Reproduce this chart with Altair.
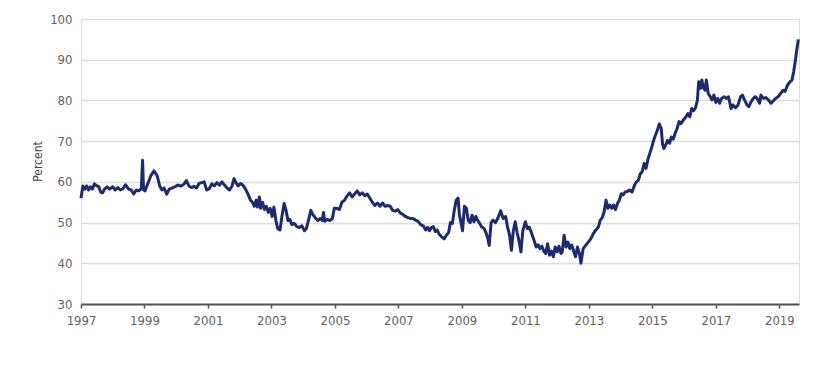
import altair as alt
import pandas as pd

years = [
 1997.00,1997.03,1997.06,1997.12,1997.18,1997.24,1997.30,1997.36,1997.42,1997.50,
 1997.56,1997.62,1997.68,1997.75,1997.82,1997.90,1998.00,1998.08,1998.16,1998.24,
 1998.32,1998.40,1998.50,1998.58,1998.66,1998.74,1998.82,1998.90,1998.94,1998.97,
 1999.02,1999.10,1999.20,1999.30,1999.40,1999.48,1999.55,1999.62,1999.70,1999.78,
 1999.88,1999.96,2000.05,2000.15,2000.25,2000.32,2000.40,2000.48,2000.56,2000.64,
 2000.72,2000.80,2000.88,2000.96,2001.04,2001.12,2001.20,2001.28,2001.36,2001.44,
 2001.52,2001.60,2001.68,2001.76,2001.82,2001.88,2001.95,2002.02,2002.10,2002.18,
 2002.26,2002.34,2002.40,2002.46,2002.52,2002.56,2002.62,2002.66,2002.72,2002.78,
 2002.84,2002.90,2002.96,2003.02,2003.08,2003.14,2003.20,2003.27,2003.34,2003.40,
 2003.46,2003.52,2003.58,2003.64,2003.72,2003.80,2003.88,2003.96,2004.04,2004.10,
 2004.18,2004.24,2004.30,2004.38,2004.46,2004.54,2004.60,2004.64,2004.68,2004.76,
 2004.84,2004.92,2004.98,2005.06,2005.14,2005.22,2005.30,2005.38,2005.46,2005.54,
 2005.62,2005.70,2005.78,2005.86,2005.94,2006.02,2006.10,2006.18,2006.26,2006.34,
 2006.42,2006.50,2006.58,2006.66,2006.74,2006.82,2006.90,2006.98,2007.06,2007.14,
 2007.22,2007.30,2007.38,2007.46,2007.54,2007.62,2007.70,2007.78,2007.86,2007.92,
 2007.98,2008.04,2008.10,2008.16,2008.22,2008.28,2008.36,2008.44,2008.52,2008.58,
 2008.64,2008.70,2008.76,2008.82,2008.88,2008.92,2008.97,2009.02,2009.08,2009.14,
 2009.20,2009.26,2009.32,2009.38,2009.44,2009.50,2009.56,2009.62,2009.70,2009.76,
 2009.82,2009.86,2009.92,2009.98,2010.06,2010.14,2010.22,2010.30,2010.38,2010.44,
 2010.50,2010.56,2010.62,2010.68,2010.74,2010.80,2010.86,2010.92,2011.00,2011.06,
 2011.12,2011.20,2011.28,2011.34,2011.40,2011.46,2011.52,2011.58,2011.64,2011.70,
 2011.76,2011.82,2011.88,2011.94,2012.00,2012.06,2012.12,2012.16,2012.22,2012.28,
 2012.34,2012.40,2012.46,2012.52,2012.58,2012.64,2012.70,2012.75,2012.82,2012.90,
 2012.98,2013.06,2013.14,2013.22,2013.30,2013.36,2013.42,2013.48,2013.54,2013.60,
 2013.66,2013.72,2013.78,2013.84,2013.90,2013.96,2014.02,2014.08,2014.14,2014.20,
 2014.28,2014.36,2014.44,2014.50,2014.56,2014.62,2014.68,2014.74,2014.80,2014.86,
 2014.92,2014.98,2015.04,2015.10,2015.16,2015.22,2015.28,2015.32,2015.36,2015.42,
 2015.48,2015.54,2015.60,2015.66,2015.72,2015.78,2015.84,2015.90,2015.98,2016.06,
 2016.12,2016.18,2016.24,2016.30,2016.36,2016.42,2016.46,2016.52,2016.56,2016.60,
 2016.66,2016.70,2016.76,2016.82,2016.88,2016.94,2017.00,2017.06,2017.12,2017.18,
 2017.26,2017.34,2017.40,2017.48,2017.54,2017.62,2017.70,2017.78,2017.84,2017.90,
 2017.98,2018.04,2018.10,2018.18,2018.24,2018.30,2018.38,2018.42,2018.50,2018.58,
 2018.66,2018.74,2018.80,2018.88,2018.96,2019.04,2019.12,2019.18,2019.26,2019.34,
 2019.40,2019.45,2019.50,2019.55,2019.60,
]
values = [
 56.0,57.5,59.0,58.2,59.0,58.0,58.8,58.2,59.5,59.0,
 58.8,57.5,57.3,58.3,58.8,58.2,58.8,58.0,58.6,58.0,
 58.3,59.3,58.2,58.0,57.0,58.0,57.8,58.3,65.3,58.0,
 57.8,59.5,61.5,62.7,61.5,59.0,58.0,58.5,57.0,58.2,
 58.5,58.8,59.2,59.0,59.5,60.3,59.0,58.6,58.9,58.5,
 59.6,59.8,60.0,58.0,58.3,59.5,59.0,59.8,59.2,60.0,
 59.2,58.5,58.0,59.0,60.8,59.8,59.0,59.6,59.2,58.3,
 57.0,55.5,55.0,54.0,55.5,53.8,56.3,53.5,55.0,53.2,
 54.0,52.5,53.5,51.5,53.8,50.5,48.5,48.2,52.0,54.7,
 53.0,50.5,50.8,49.5,49.8,49.0,48.8,49.2,48.0,48.5,
 51.0,53.0,52.0,51.2,50.5,51.0,50.5,52.5,50.3,50.8,
 50.5,51.0,53.5,53.5,53.2,55.0,55.5,56.5,57.3,56.3,
 57.0,57.8,56.8,57.3,56.6,57.0,56.0,55.0,54.2,54.8,
 54.0,54.8,54.0,54.2,54.0,53.0,52.8,53.2,52.3,52.0,
 51.5,51.2,51.0,51.0,50.6,50.3,49.5,49.2,48.2,48.8,
 48.0,48.8,49.0,47.8,48.2,47.2,46.5,46.0,47.0,47.5,
 50.0,49.8,53.0,55.5,56.0,52.0,50.0,48.0,54.0,53.5,
 50.5,50.0,51.8,50.2,51.5,50.5,49.8,49.0,48.5,47.5,
 46.0,44.4,50.0,50.6,50.0,51.2,52.9,51.0,51.5,48.8,
 47.0,43.2,48.0,50.2,47.5,45.5,42.8,48.0,50.2,48.5,
 48.9,47.3,45.5,44.0,44.5,43.6,44.2,43.0,42.4,44.8,
 42.0,43.0,41.6,44.0,42.8,44.2,42.4,42.8,46.9,44.0,
 45.2,43.6,44.5,43.0,41.6,44.0,42.5,40.0,43.6,44.4,
 45.2,46.0,47.3,48.2,48.9,50.6,51.2,52.6,55.5,53.5,
 54.3,53.5,54.3,53.2,54.7,55.5,57.1,56.8,57.5,57.6,
 58.0,57.5,59.2,60.0,60.4,62.0,62.5,64.5,63.3,65.5,
 67.0,68.5,70.2,71.5,72.7,74.2,73.1,69.4,68.2,69.0,
 70.2,69.5,71.0,70.5,72.0,73.1,74.8,74.3,75.2,76.0,
 76.8,76.0,78.0,77.5,78.2,80.1,84.6,83.0,85.0,83.2,
 82.5,85.0,81.7,81.0,80.1,81.3,79.5,80.5,79.3,80.5,
 80.9,80.5,80.9,78.0,78.9,78.2,78.9,80.9,81.3,80.2,
 78.9,78.5,79.5,80.5,80.9,80.5,79.3,81.3,80.5,80.7,
 80.1,79.3,79.8,80.5,80.9,81.7,82.5,82.2,83.8,84.6,
 85.0,87.0,89.5,92.4,95.0,
]
assert len(years) == len(values)

df = pd.DataFrame({"year": years, "value": values})

x_ticks = list(range(1997, 2020, 2))
y_ticks = [30, 40, 50, 60, 70, 80, 90, 100]
font = "DejaVu Sans Condensed, Liberation Sans Narrow, sans-serif"

chart = alt.Chart(df).mark_line(color="#1c2b6f", strokeWidth=3, strokeJoin="round").encode(
    x=alt.X("year:Q",
            scale=alt.Scale(domain=[1997, 2019.62], nice=False, zero=False),
            axis=alt.Axis(values=x_ticks, format="d", title=None, grid=False,
                          domainColor="#555555", domainWidth=2, tickColor="#555555",
                          tickWidth=1.5, tickSize=4, labelFont=font, labelFontSize=13,
                          labelColor="#5f5f5f", labelPadding=6, labelFlush=False)),
    y=alt.Y("value:Q",
            scale=alt.Scale(domain=[30, 100], nice=False, zero=False),
            axis=alt.Axis(values=y_ticks, title="Percent",
                          domain=False, ticks=False, gridColor="#dddddd", gridWidth=1.5,
                          labelFont=font, labelFontSize=13, labelColor="#5f5f5f",
                          labelPadding=9, titleFont=font, titleFontSize=12,
                          titleFontWeight="normal", titleColor="#444444",
                          titleX=-37, titleY=142)),
).properties(
    width=718, height=285,
    autosize=alt.AutoSizeParams(type="none"),
    padding={"left": 73, "top": 11, "right": 10, "bottom": 40},
).configure_view(stroke=None).configure(background="white")

chart.save("out.html", embed_options={"renderer": "svg", "actions": False})
